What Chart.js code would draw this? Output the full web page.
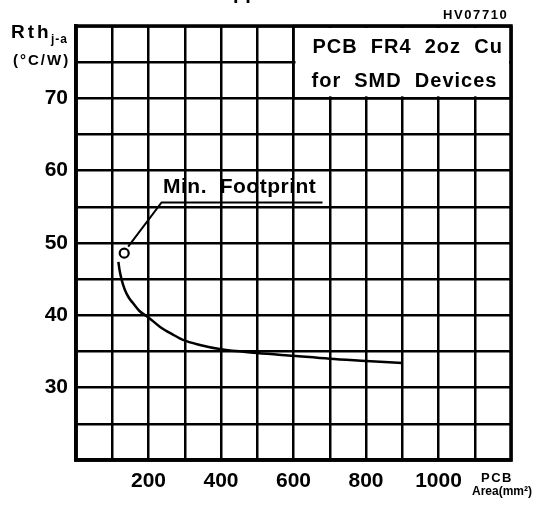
<!DOCTYPE html>
<html>
<head>
<meta charset="utf-8">
<script src="https://cdn.jsdelivr.net/npm/chart.js@4/dist/chart.umd.min.js"></script>
<style>
  html, body { margin: 0; padding: 0; background: #fff; }
  #wrap { width: 534px; height: 505px; }
</style>
</head>
<body>
<div id="wrap"><canvas id="chart" width="534" height="505"></canvas></div>
<script>
// curve: PCB area (mm2) vs Rth j-a (C/W)
var areaX = [117, 120, 126, 135, 145, 157, 175, 200, 232, 265, 295, 342, 400, 500, 600, 700, 800, 900];
var rthY = [47.4, 46.3, 44.9, 43.5, 42.5, 41.7, 40.6, 39.7, 38.4, 37.4, 36.6, 35.9, 35.3, 34.8, 34.4, 34.0, 33.7, 33.4];

// min. footprint marker and its leader line
var markerX = [133];
var markerY = [48.6];
var leaderX = [144, 236, 680];
var leaderY = [49.5, 55.6, 55.6];

// tick labels that are printed
var xLabels = [200, 400, 600, 800, 1000];
var yLabels = [30, 40, 50, 60, 70];

// legend box in the top right corner (data units)
var boxX = [600, 1200];
var boxY = [70, 80];
var boxLines = ['PCB  FR4  2oz  Cu', 'for  SMD  Devices'];

var FONT = "'Liberation Sans', Arial, sans-serif";

function pts(xs, ys) {
    var out = [];
    for (let i = 0; i < xs.length; i++) {
        out.push({ x: xs[i], y: ys[i] });
    }
    return out;
}

function txt(ctx, s, x, y, size, spacing, align) {
    ctx.font = 'bold ' + size + 'px ' + FONT;
    ctx.letterSpacing = (spacing || 0) + 'px';
    ctx.textAlign = align || 'left';
    ctx.textBaseline = 'alphabetic';
    ctx.fillStyle = '#000';
    ctx.fillText(s, x, y);
    ctx.letterSpacing = '0px';
}

var decor = {
    id: 'decor',
    beforeDatasetsDraw: function(chart) {
        const ctx = chart.ctx;
        const xs = chart.scales.x, ys = chart.scales.y;
        const l = xs.getPixelForValue(boxX[0]), r = xs.getPixelForValue(boxX[1]);
        const t = ys.getPixelForValue(boxY[1]), b = ys.getPixelForValue(boxY[0]);
        ctx.save();
        ctx.fillStyle = '#fff';
        ctx.fillRect(l + 2, t + 2, r - l - 4, b - t - 4);
        ctx.strokeStyle = '#000';
        ctx.lineWidth = 2.5;
        ctx.strokeRect(l, t, r - l, b - t);
        txt(ctx, boxLines[0], l + 19, t + 27, 20, 1);
        txt(ctx, boxLines[1], l + 18, t + 61, 20, 1);
        ctx.restore();
    },
    afterDraw: function(chart) {
        const ctx = chart.ctx;
        const a = chart.chartArea;
        ctx.save();
        ctx.strokeStyle = '#000';
        ctx.lineWidth = 3.5;
        ctx.strokeRect(a.left, a.top, a.right - a.left, a.bottom - a.top);

        // cut-off figure title above the picture, only the descenders show
        ctx.font = 'bold 20px ' + FONT;
        const pre = ctx.measureText('Rth vs PCB Co').width;
        txt(ctx, 'Rth vs PCB Copper Area', 233 - pre, -1, 20, 0);

        txt(ctx, 'HV07710', 443, 19, 13, 1.6);
        txt(ctx, 'Rth', 11, 38, 19, 3);
        txt(ctx, 'j-a', 51, 43, 12, 1);
        txt(ctx, '(\u00b0C/W)', 13, 65, 15, 2);
        txt(ctx, 'Min.  Footprint', 163, 193, 21, 0.5);
        txt(ctx, 'PCB', 481, 482, 13, 1.5);
        txt(ctx, 'Area(mm\u00b2)', 472, 495, 12, 0);
        ctx.restore();
    }
};

var chart = new Chart(document.getElementById('chart'), {
    type: 'line',
    data: {
        datasets: [{
            label: 'Rth',
            data: pts(areaX, rthY),
            borderColor: '#000',
            borderWidth: 2.5,
            pointRadius: 0,
            fill: false,
            cubicInterpolationMode: 'monotone'
        }, {
            label: 'leader',
            data: pts(leaderX, leaderY),
            borderColor: '#000',
            borderWidth: 2,
            pointRadius: 0,
            fill: false,
            tension: 0
        }, {
            label: 'marker',
            data: pts(markerX, markerY),
            showLine: false,
            pointRadius: 4.5,
            pointBorderWidth: 2.2,
            pointBorderColor: '#000',
            pointBackgroundColor: '#fff'
        }]
    },
    options: {
        responsive: false,
        animation: false,
        devicePixelRatio: 1,
        layout: { padding: { left: 0, top: 26, right: 23, bottom: 0 } },
        plugins: {
            legend: { display: false },
            tooltip: { enabled: false }
        },
        scales: {
            x: {
                type: 'linear',
                min: 0,
                max: 1200,
                afterFit: function(s) { s.height = 45; },
                grid: { color: '#000', lineWidth: 2.5, drawTicks: false },
                border: { display: true, color: '#000', width: 3.5 },
                ticks: {
                    stepSize: 100,
                    autoSkip: false,
                    maxRotation: 0,
                    padding: 9,
                    color: '#000',
                    font: { family: FONT, size: 21, weight: 'bold' },
                    callback: function(v) { return xLabels.includes(v) ? String(v) : ''; }
                }
            },
            y: {
                type: 'linear',
                min: 20,
                max: 80,
                afterFit: function(s) { s.width = 76; },
                grid: { color: '#000', lineWidth: 2.5, drawTicks: false },
                border: { display: true, color: '#000', width: 3.5 },
                ticks: {
                    stepSize: 5,
                    autoSkip: false,
                    padding: 8,
                    color: '#000',
                    font: { family: FONT, size: 21, weight: 'bold' },
                    callback: function(v) { return yLabels.includes(v) ? String(v) : ''; }
                }
            }
        }
    },
    plugins: [decor]
});
</script>
</body>
</html>
